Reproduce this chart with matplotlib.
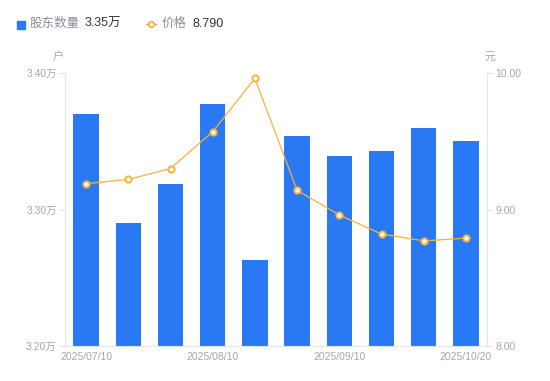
import matplotlib
matplotlib.use('Agg')
import matplotlib.pyplot as plt
from matplotlib.lines import Line2D
from matplotlib.patches import Rectangle

plt.rcParams['font.family'] = ['Liberation Sans', 'Noto Sans CJK SC', 'DejaVu Sans']

dates = ['2025/07/10', '2025/07/20', '2025/07/31', '2025/08/10', '2025/08/20',
         '2025/08/31', '2025/09/10', '2025/09/19', '2025/09/30', '2025/10/20']
holders = [3.370, 3.290, 3.319, 3.377, 3.263, 3.354, 3.339, 3.343, 3.360, 3.350]
prices = [9.19, 9.22, 9.30, 9.57, 9.96, 9.14, 8.96, 8.82, 8.77, 8.79]
left_ticks = [3.20, 3.30, 3.40]
right_ticks = [8.00, 9.00, 10.00]

BLUE = '#2979F5'
ORANGE = '#F7B23B'
GRAY = '#A3A6B0'
AXIS = '#E3E5EA'

W, H = 550, 381
fig = plt.figure(figsize=(W / 100, H / 100), dpi=100)
ax = fig.add_axes([65 / W, 1 - 346 / H, (487 - 65) / W, (346 - 73) / H])

x = list(range(len(dates)))
ax.bar(x, holders, width=0.6, color=BLUE, zorder=2)
ax.set_xlim(-0.5, len(dates) - 0.5)
ax.set_ylim(3.20, 3.40)
ax.set_yticks(left_ticks)
ax.set_yticklabels([f'{v:.2f}万' for v in left_ticks])
ax.set_xticks([0, 3, 6, 9])
ax.set_xticklabels([dates[i] for i in [0, 3, 6, 9]])
ax.tick_params(axis='y', colors=AXIS, labelcolor=GRAY, labelsize=7.5, length=4, width=0.8, pad=2)
ax.tick_params(axis='x', length=0, labelcolor=GRAY, labelsize=7.5, pad=4)
for s in ['top', 'right']:
    ax.spines[s].set_visible(False)
for s in ['left', 'bottom']:
    ax.spines[s].set_color(AXIS)
    ax.spines[s].set_linewidth(0.8)

ax2 = ax.twinx()
ax2.plot(x, prices, color=ORANGE, linewidth=0.9, marker='o', markersize=4.5,
         markerfacecolor='white', markeredgecolor=ORANGE, markeredgewidth=1.4, zorder=3)
ax2.set_ylim(8.0, 10.0)
ax2.set_yticks(right_ticks)
ax2.set_yticklabels([f'{v:.2f}' for v in right_ticks])
ax2.tick_params(axis='y', colors=AXIS, labelcolor=GRAY, labelsize=7.5, length=4, width=0.8, pad=2)
for s in ['top', 'left', 'bottom']:
    ax2.spines[s].set_visible(False)
ax2.spines['right'].set_color(AXIS)
ax2.spines['right'].set_linewidth(0.8)

# axis units
fig.text(58 / W, 1 - 57 / H, '户', color=GRAY, fontsize=8, ha='center', va='center')
fig.text(490 / W, 1 - 57 / H, '元', color=GRAY, fontsize=8, ha='center', va='center')

# legend
fig.patches.append(Rectangle((17 / W, 1 - 29 / H), 8 / W, 8 / H, color=BLUE,
                             transform=fig.transFigure, figure=fig))
fig.text(30 / W, 1 - 24 / H, '股东数量', color='#8C8F99', fontsize=9, va='center')
fig.text(85 / W, 1 - 24 / H, '3.35万', color='#333333', fontsize=9, va='center')
fig.lines.append(Line2D([146 / W, 156 / W], [1 - 24 / H, 1 - 24 / H], color=ORANGE,
                        linewidth=1, transform=fig.transFigure))
fig.lines.append(Line2D([151 / W], [1 - 24 / H], color=ORANGE, marker='o', markersize=4,
                        markerfacecolor='white', markeredgewidth=1.3, linestyle='none',
                        transform=fig.transFigure))
fig.text(162 / W, 1 - 24 / H, '价格', color='#8C8F99', fontsize=9, va='center')
fig.text(192 / W, 1 - 24 / H, '8.790', color='#333333', fontsize=9, va='center')

fig.savefig('out.png', dpi=100)
